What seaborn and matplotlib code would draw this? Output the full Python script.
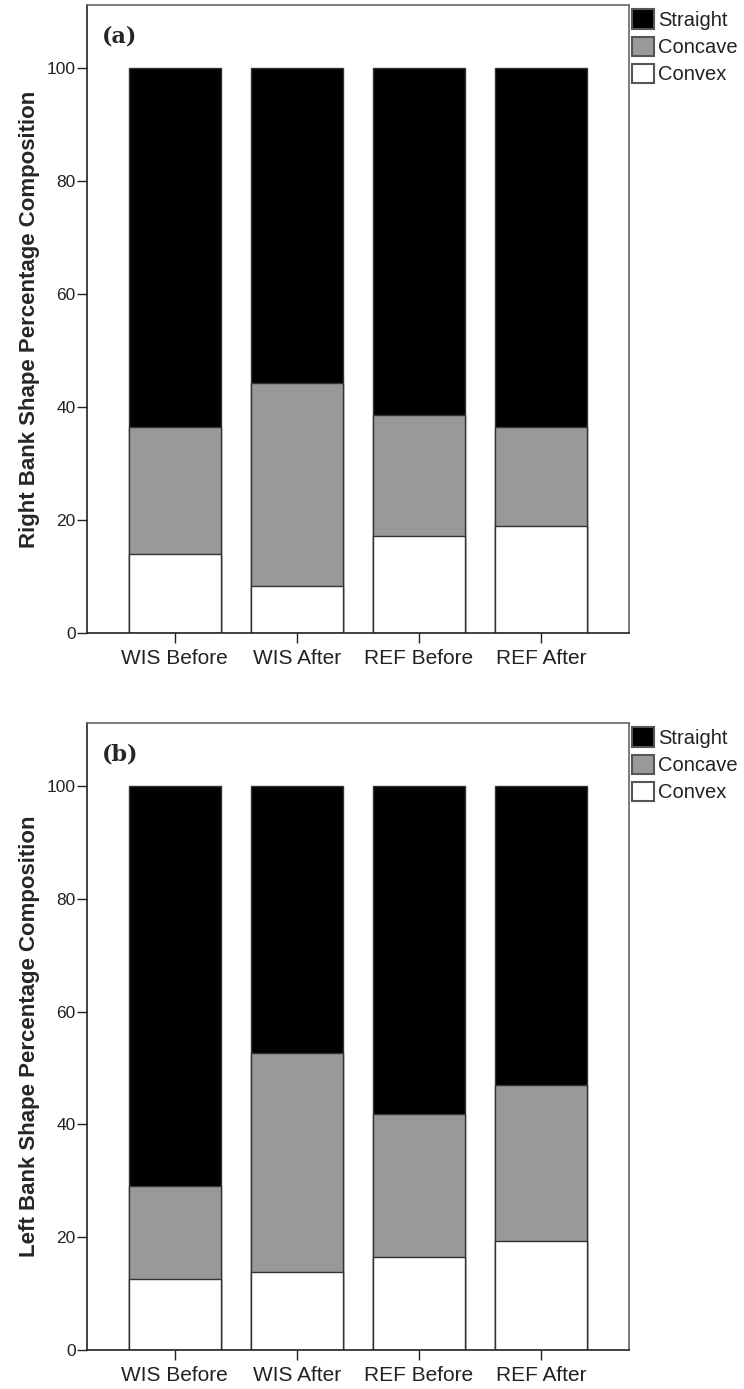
import numpy as np
import pandas as pd
import matplotlib
matplotlib.use('Agg')
import matplotlib.pyplot as plt
import seaborn as sns

# 组别
groups = ['WIS Before', 'WIS After', 'REF Before', 'REF After']

# 右岸 各形状百分比
right_convex = [14.0, 8.3, 17.2, 19.0]
right_concave = [22.5, 36.0, 21.4, 17.5]
right_straight = [63.5, 55.7, 61.4, 63.5]

# 左岸 各形状百分比
left_convex = [12.5, 13.9, 16.5, 19.4]
left_concave = [16.6, 38.8, 25.3, 27.6]
left_straight = [70.9, 47.3, 58.2, 53.0]

sns.set_style('ticks')
plt.rcParams['font.family'] = ['Liberation Sans', 'DejaVu Sans']


def draw_panel(ax, convex, concave, straight, ylabel, tag):
    df = pd.DataFrame({'group': groups, 'convex': convex,
                       'concave': concave, 'straight': straight})
    # 堆叠: 先画总高度, 再往上覆盖
    df['c2'] = df['convex'] + df['concave']
    df['c3'] = df['c2'] + df['straight']

    edge = '#333333'
    sns.barplot(data=df, x='group', y='c3', color='black', width=0.75,
                saturation=1, edgecolor=edge, linewidth=1, label='Straight', ax=ax)
    sns.barplot(data=df, x='group', y='c2', color='#999999', width=0.75,
                saturation=1, edgecolor=edge, linewidth=1, label='Concave', ax=ax)
    sns.barplot(data=df, x='group', y='convex', color='white', width=0.75,
                saturation=1, edgecolor=edge, linewidth=1, label='Convex', ax=ax)

    ax.set_xlim(-0.72, 3.72)
    ax.set_ylim(0, 111.2)
    ax.set_yticks([0, 20, 40, 60, 80, 100])
    ax.set_xlabel('')
    ax.set_ylabel(ylabel, fontsize=16, fontweight='bold', labelpad=5)
    ax.tick_params(axis='y', labelsize=12.5, length=7, width=1, pad=1, colors='#222222')
    ax.tick_params(axis='x', labelsize=15, length=7.5, width=1, pad=4, colors='#222222')

    for side in ['top', 'right']:
        ax.spines[side].set_color('#666666')
        ax.spines[side].set_linewidth(1.2)
    for side in ['left', 'bottom']:
        ax.spines[side].set_color('#222222')
        ax.spines[side].set_linewidth(1.2)

    ax.text(0.028, 0.95, tag, transform=ax.transAxes, fontsize=16,
            fontweight='heavy', family=['DejaVu Serif'], va='center', ha='left')

    leg = ax.legend(loc='upper left', bbox_to_anchor=(1.005, 0.993), frameon=False,
                    fontsize=14.5, handlelength=1.1, handleheight=1.1,
                    labelspacing=0.33, handletextpad=0.2, borderpad=0, borderaxespad=0)
    for t in leg.get_texts():
        t.set_color('#222222')
    for p in leg.get_patches():
        p.set_edgecolor('#555555')
        p.set_linewidth(1.5)


fig = plt.figure(figsize=(7.44, 13.89), dpi=100)
ax1 = fig.add_axes([0.1169, 0.5443, 0.7285, 0.4521])
ax2 = fig.add_axes([0.1169, 0.0281, 0.7285, 0.4514])

draw_panel(ax1, right_convex, right_concave, right_straight,
           'Right Bank Shape Percentage Composition', '(a)')
draw_panel(ax2, left_convex, left_concave, left_straight,
           'Left Bank Shape Percentage Composition', '(b)')

fig.savefig('out.png', dpi=100)
